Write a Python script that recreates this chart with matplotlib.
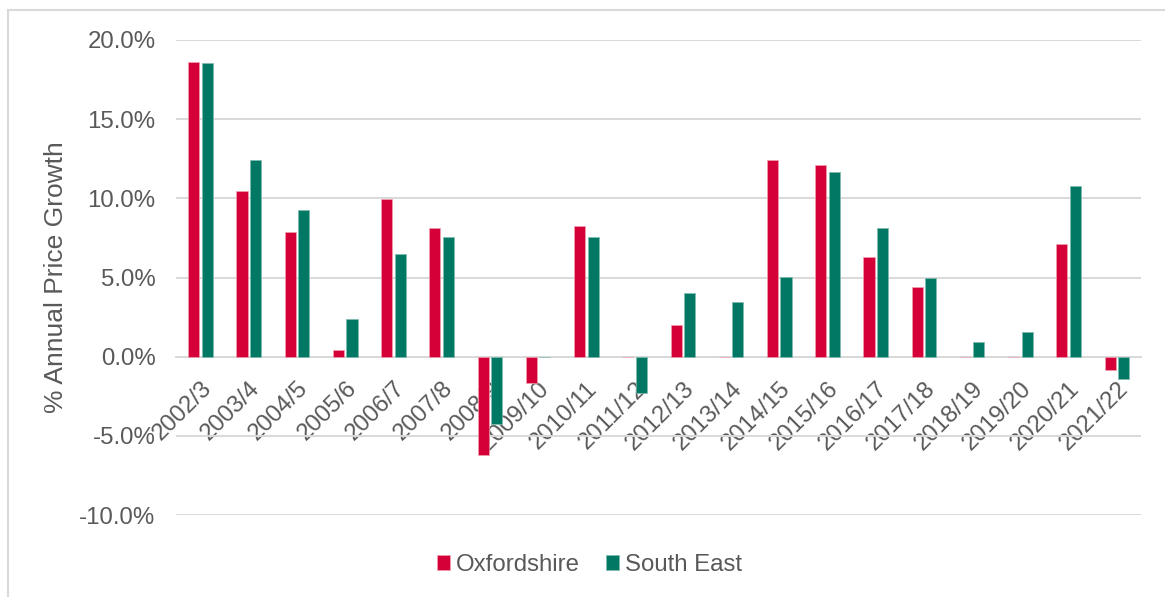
import matplotlib.pyplot as plt
from matplotlib.lines import Line2D
from matplotlib.ticker import FuncFormatter
import numpy as np

plt.rcParams['font.family'] = ['Liberation Sans', 'DejaVu Sans']

years = ['2002/3', '2003/4', '2004/5', '2005/6', '2006/7', '2007/8', '2008/9',
         '2009/10', '2010/11', '2011/12', '2012/13', '2013/14', '2014/15',
         '2015/16', '2016/17', '2017/18', '2018/19', '2019/20', '2020/21',
         '2021/22']
oxfordshire = [18.64, 10.44, 7.9, 0.42, 9.94, 8.15, -6.2, -1.65, 8.25, 0.0,
               2.0, 0.0, 12.39, 12.09, 6.31, 4.43, 0.0, 0.0, 7.11, -0.84]
south_east = [18.57, 12.4, 9.27, 2.37, 6.49, 7.53, -4.26, 0.0, 7.58, -2.27,
              4.05, 3.44, 5.03, 11.69, 8.1, 4.98, 0.91, 1.54, 10.76, -1.41]

red = '#D50037'
teal = '#007864'
grey_text = '#595959'
grid_col = '#D9D9D9'

fig = plt.figure(figsize=(11.65, 5.97), dpi=100)
ax = fig.add_axes([176.4 / 1165, 1 - 515 / 597, (1141 - 176.4) / 1165, 475 / 597])

x = np.arange(len(years))
w = 0.23
ax.bar(x - 0.14, oxfordshire, w, color=red, edgecolor='#F0A0B0', linewidth=0.5,
       label='Oxfordshire', zorder=3)
ax.bar(x + 0.14, south_east, w, color=teal, edgecolor='#80BCB0', linewidth=0.5,
       label='South East', zorder=3)

ax.set_xlim(-0.5, len(years) - 0.5)
ax.set_ylim(-10, 20)
ax.set_yticks([-10, -5, 0, 5, 10, 15, 20])
ax.yaxis.set_major_formatter(FuncFormatter(lambda v, p: f'{v:.1f}%'))
ax.grid(axis='y', color=grid_col, linewidth=1.4, zorder=0)
ax.set_axisbelow(True)

for s in ['top', 'right', 'left']:
    ax.spines[s].set_visible(False)
ax.spines['bottom'].set_position(('data', 0))
ax.spines['bottom'].set_color(grid_col)
ax.spines['bottom'].set_linewidth(1.4)

ax.set_xticks(x)
ax.set_xticklabels(years, rotation=45, ha='right', va='top',
                   rotation_mode='anchor')
ax.tick_params(axis='x', length=0, pad=15, labelsize=17.3, labelcolor=grey_text)
ax.tick_params(axis='y', length=0, pad=15, labelsize=17.3, labelcolor=grey_text)

ax.set_ylabel('% Annual Price Growth', fontsize=19, color=grey_text, labelpad=8)

ax.legend(loc='center', bbox_to_anchor=(0.506, 1 - 565 / 597),
          bbox_transform=fig.transFigure, ncol=2, frameon=False,
          fontsize=17.3, labelcolor=grey_text, handlelength=0.55,
          handleheight=0.55, handletextpad=0.22, columnspacing=1.1)

# chart area border (top and left only visible)
fig.add_artist(Line2D([8 / 1165, 1], [1 - 10 / 597, 1 - 10 / 597],
                      color=grid_col, linewidth=1.5, transform=fig.transFigure))
fig.add_artist(Line2D([8 / 1165, 8 / 1165], [0, 1 - 10 / 597],
                      color=grid_col, linewidth=1.5, transform=fig.transFigure))

fig.savefig('out.png', dpi=100)
